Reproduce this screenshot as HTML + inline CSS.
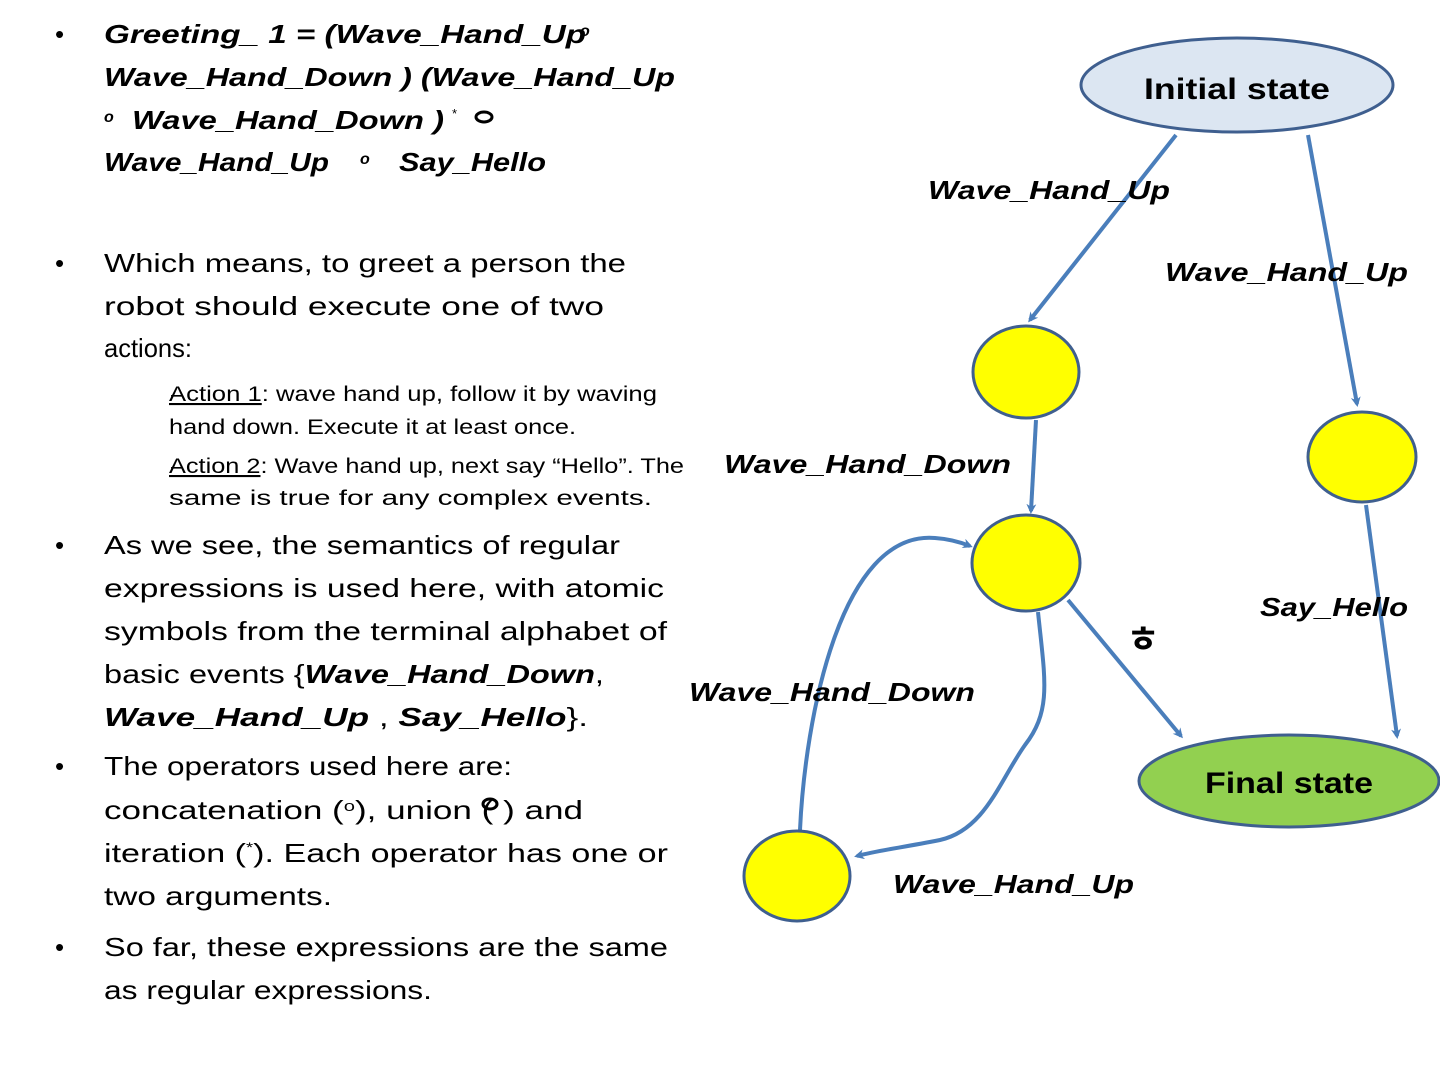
<!DOCTYPE html>
<html><head><meta charset="utf-8"><style>
html,body{margin:0;padding:0;background:#fff;}
svg{display:block;}
text{font-family:"Liberation Sans","Noto Sans CJK KR",sans-serif;fill:#000;}
.bi{font-weight:bold;font-style:italic;}
.n{font-size:26px;}
.s{font-size:21px;}
</style></head><body>
<svg width="1440" height="1080" viewBox="0 0 1440 1080" xmlns="http://www.w3.org/2000/svg">
<defs>
<marker id="ah" markerWidth="10" markerHeight="10" refX="7" refY="5" orient="auto" markerUnits="userSpaceOnUse" viewBox="0 0 10 10">
<path d="M0,0 L10,5 L0,10 L3,5 z" fill="#4a7ebb"/>
</marker>
</defs>
<!-- bullets -->
<g font-size="26" font-family="Liberation Sans">
<text x="55" y="43">•</text>
<text x="55" y="272">•</text>
<text x="55" y="554">•</text>
<text x="55" y="775">•</text>
<text x="55" y="956">•</text>
</g>
<text class="s" x="171" y="401">–</text>
<text class="s" x="171" y="473">–</text>

<text class="n bi" x="104" y="43" textLength="482" lengthAdjust="spacingAndGlyphs">Greeting_ 1 = (Wave_Hand_Up</text>
<text x="580" y="36" font-size="16" class="bi">o</text>
<text class="n bi" x="104" y="86" textLength="571" lengthAdjust="spacingAndGlyphs">Wave_Hand_Down ) (Wave_Hand_Up</text>
<text x="104" y="122" font-size="16" class="bi">o</text>
<text class="n bi" x="132" y="129" textLength="312" lengthAdjust="spacingAndGlyphs">Wave_Hand_Down )</text>
<text x="452" y="118" font-size="13">*</text>
<ellipse cx="484" cy="117" rx="8" ry="5" fill="none" stroke="#000" stroke-width="3"/>
<text class="n bi" x="104" y="171" textLength="225" lengthAdjust="spacingAndGlyphs">Wave_Hand_Up</text>
<text x="360" y="164" font-size="16" class="bi">o</text>
<text class="n bi" x="399" y="171" textLength="147" lengthAdjust="spacingAndGlyphs">Say_Hello</text>

<text class="n" x="104" y="272" textLength="522" lengthAdjust="spacingAndGlyphs">Which means, to greet a person the</text>
<text class="n" x="104" y="315" textLength="500" lengthAdjust="spacingAndGlyphs">robot should execute one of two</text>
<text class="n" x="104" y="357" textLength="88" lengthAdjust="spacingAndGlyphs">actions:</text>

<text class="s" x="169" y="401" textLength="488" lengthAdjust="spacingAndGlyphs"><tspan text-decoration="underline">Action 1</tspan>: wave hand up, follow it by waving</text>
<text class="s" x="169" y="434" textLength="407" lengthAdjust="spacingAndGlyphs">hand down. Execute it at least once.</text>
<text class="s" x="169" y="473" textLength="515" lengthAdjust="spacingAndGlyphs"><tspan text-decoration="underline">Action 2</tspan>: Wave hand up, next say “Hello”. The</text>
<text class="s" x="169" y="505" textLength="483" lengthAdjust="spacingAndGlyphs">same is true for any complex events.</text>

<text class="n" x="104" y="554" textLength="516" lengthAdjust="spacingAndGlyphs">As we see, the semantics of regular</text>
<text class="n" x="104" y="597" textLength="560" lengthAdjust="spacingAndGlyphs">expressions is used here, with atomic</text>
<text class="n" x="104" y="640" textLength="563" lengthAdjust="spacingAndGlyphs">symbols from the terminal alphabet of</text>
<text class="n" x="104" y="683" textLength="500" lengthAdjust="spacingAndGlyphs">basic events {<tspan class="bi">Wave_Hand_Down</tspan>,</text>
<text class="n" x="104" y="726" textLength="484" lengthAdjust="spacingAndGlyphs"><tspan class="bi">Wave_Hand_Up</tspan> ,   <tspan class="bi">Say_Hello</tspan>}.</text>

<text class="n" x="104" y="775" textLength="408" lengthAdjust="spacingAndGlyphs">The operators used here are:</text>
<text class="n" x="104" y="819" textLength="479" lengthAdjust="spacingAndGlyphs">concatenation (<tspan font-size="15" dy="-8">o</tspan><tspan dy="8">), union (    ) and</tspan></text>
<ellipse cx="490" cy="804" rx="7" ry="5" fill="none" stroke="#000" stroke-width="3"/>
<text class="n" x="104" y="862" textLength="564" lengthAdjust="spacingAndGlyphs">iteration (<tspan font-size="14" dy="-10">*</tspan><tspan dy="10">). Each operator has one or</tspan></text>
<text class="n" x="104" y="905" textLength="228" lengthAdjust="spacingAndGlyphs">two arguments.</text>

<text class="n" x="104" y="956" textLength="564" lengthAdjust="spacingAndGlyphs">So far,  these expressions are the same</text>
<text class="n" x="104" y="999" textLength="328" lengthAdjust="spacingAndGlyphs">as regular expressions.</text>

<!-- diagram -->
<g stroke="#4a7ebb" stroke-width="4" fill="none" marker-end="url(#ah)">
<path d="M1176,135 L1030,320"/>
<path d="M1308,135 L1357,404"/>
<path d="M1036,420 L1031,511"/>
<path d="M1366,505 L1397,736"/>
<path d="M1068,600 L1181,736"/>
<path d="M1038,612 C1045,680 1052,710 1025,745 C1000,780 985,830 940,840 C900,848 880,850 857,856"/>
<path d="M800,830 C805,720 840,530 935,538 C950,539 960,542 970,546"/>
</g>
<ellipse cx="1237" cy="85" rx="156" ry="47" fill="#dce6f2" stroke="#3f5f8f" stroke-width="3"/>
<text x="1237" y="99" text-anchor="middle" font-size="30" font-weight="bold" textLength="186" lengthAdjust="spacingAndGlyphs">Initial state</text>
<ellipse cx="1026" cy="372" rx="53" ry="46" fill="#ffff00" stroke="#3f5f8f" stroke-width="3"/>
<ellipse cx="1362" cy="457" rx="54" ry="45" fill="#ffff00" stroke="#3f5f8f" stroke-width="3"/>
<ellipse cx="1026" cy="563" rx="54" ry="48" fill="#ffff00" stroke="#3f5f8f" stroke-width="3"/>
<ellipse cx="797" cy="876" rx="53" ry="45" fill="#ffff00" stroke="#3f5f8f" stroke-width="3"/>
<ellipse cx="1289" cy="781" rx="150" ry="46" fill="#92d050" stroke="#3f5f8f" stroke-width="3"/>
<text x="1289" y="793" text-anchor="middle" font-size="30" font-weight="bold" textLength="168" lengthAdjust="spacingAndGlyphs">Final state</text>

<text class="bi" x="928" y="199" font-size="26" textLength="242" lengthAdjust="spacingAndGlyphs">Wave_Hand_Up</text>
<text class="bi" x="1165" y="281" font-size="26" textLength="243" lengthAdjust="spacingAndGlyphs">Wave_Hand_Up</text>
<text class="bi" x="724" y="473" font-size="26" textLength="287" lengthAdjust="spacingAndGlyphs">Wave_Hand_Down</text>
<text class="bi" x="1260" y="616" font-size="26" textLength="148" lengthAdjust="spacingAndGlyphs">Say_Hello</text>
<text class="bi" x="689" y="701" font-size="26" textLength="286" lengthAdjust="spacingAndGlyphs">Wave_Hand_Down</text>
<text class="bi" x="893" y="893" font-size="26" textLength="241" lengthAdjust="spacingAndGlyphs">Wave_Hand_Up</text>
<text x="1143" y="652" font-size="36" font-weight="bold" text-anchor="middle">ㅎ</text>
</svg>
</body></html>
